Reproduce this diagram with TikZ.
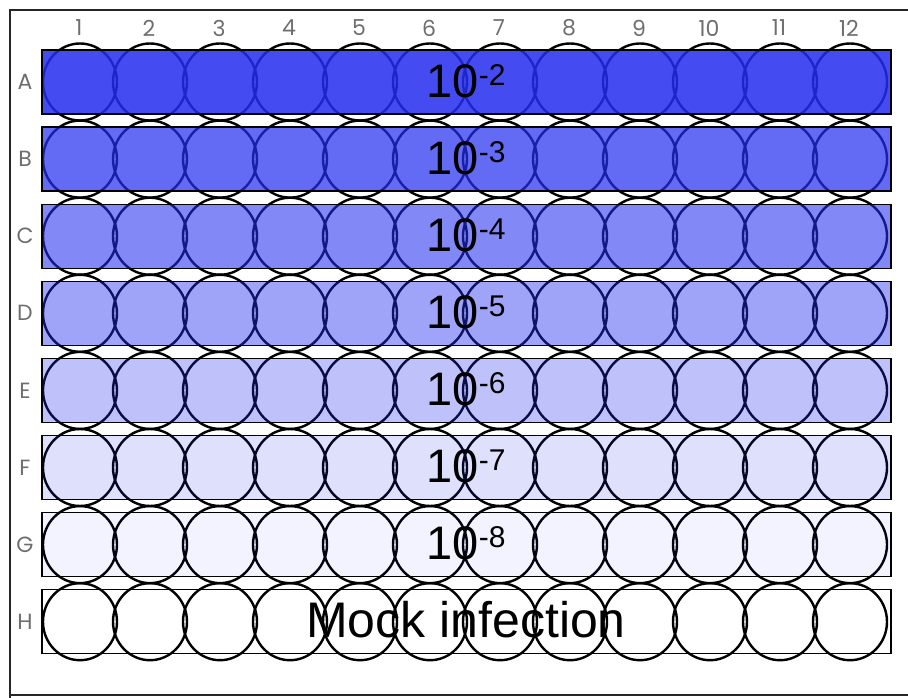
\documentclass[tikz,border=0pt]{standalone}
\usepackage{fontspec}
\setmainfont{Liberation Sans}
\newfontfamily\labfont{Poppins}
\usetikzlibrary{shapes.geometric}
\definecolor{plateblue}{RGB}{35,45,238}
\definecolor{labgray}{RGB}{110,110,110}
\begin{document}
\begin{tikzpicture}[x=1pt,y=-1pt,
  well/.style={ellipse,draw=black,line width=2.4pt,minimum width=74pt,minimum height=77pt,inner sep=0pt},
  rowbox/.style={rectangle,draw=black,line width=1.4pt,minimum width=849pt,minimum height=64pt,inner sep=0pt},
  axlab/.style={text=labgray,font=\labfont\fontsize{22}{22}\selectfont,inner sep=0pt},
  dil/.style={anchor=base,inner sep=0pt,font=\fontsize{47}{47}\selectfont},
  frame/.style={draw=black!85,line width=2.6pt}]
\useasboundingbox (0,0) rectangle (908,697);
\draw[frame] (10,925) -- (10,10) -- (925,10);
\draw[frame] (10,695) -- (925,695);
% wells
\foreach \r [count=\i from 0] in {A,B,C,D,E,F,G,H}{
  \pgfmathsetmacro{\cy}{82+77.1*\i}
  \foreach \c [count=\j from 0] in {1,...,12}{
    \node[well] (w-\r-\c) at ({80+70*\j},\cy) {};
  }
}
% row boxes
\foreach \r/\op [count=\i from 0] in {A/0.85,B/0.71,C/0.57,D/0.43,E/0.29,F/0.15,G/0.06}{
  \pgfmathsetmacro{\cy}{82+77.1*\i}
  \node[rowbox,fill=plateblue,fill opacity=\op,draw opacity=1] (row-\r) at (466.5,\cy) {};
}
\node[rowbox] (row-H) at (466.5,{82+77.1*7}) {};
% dilution labels
\foreach \r/\e [count=\i from 0] in {A/2,B/3,C/4,D/5,E/6,F/7,G/8}{
  \pgfmathsetmacro{\cy}{82+77.1*\i+15}
  \node[dil] (t-\r) at (466,\cy) {10\raisebox{12pt}{\fontsize{30}{30}\selectfont -\e}};
}
\node[dil,font=\fontsize{50}{50}\selectfont] (t-H) at (466,{82+77.1*7+16}) {Mock infection};
% axis labels
\foreach \c [count=\j from 0] in {1,...,12}{
  \node[axlab] (col-\c) at ({79+70*\j},28) {\c};
}
\foreach \r [count=\i from 0] in {A,B,C,D,E,F,G,H}{
  \node[axlab] (lab-\r) at (25,{82+77.1*\i}) {\r};
}
\end{tikzpicture}
\end{document}
